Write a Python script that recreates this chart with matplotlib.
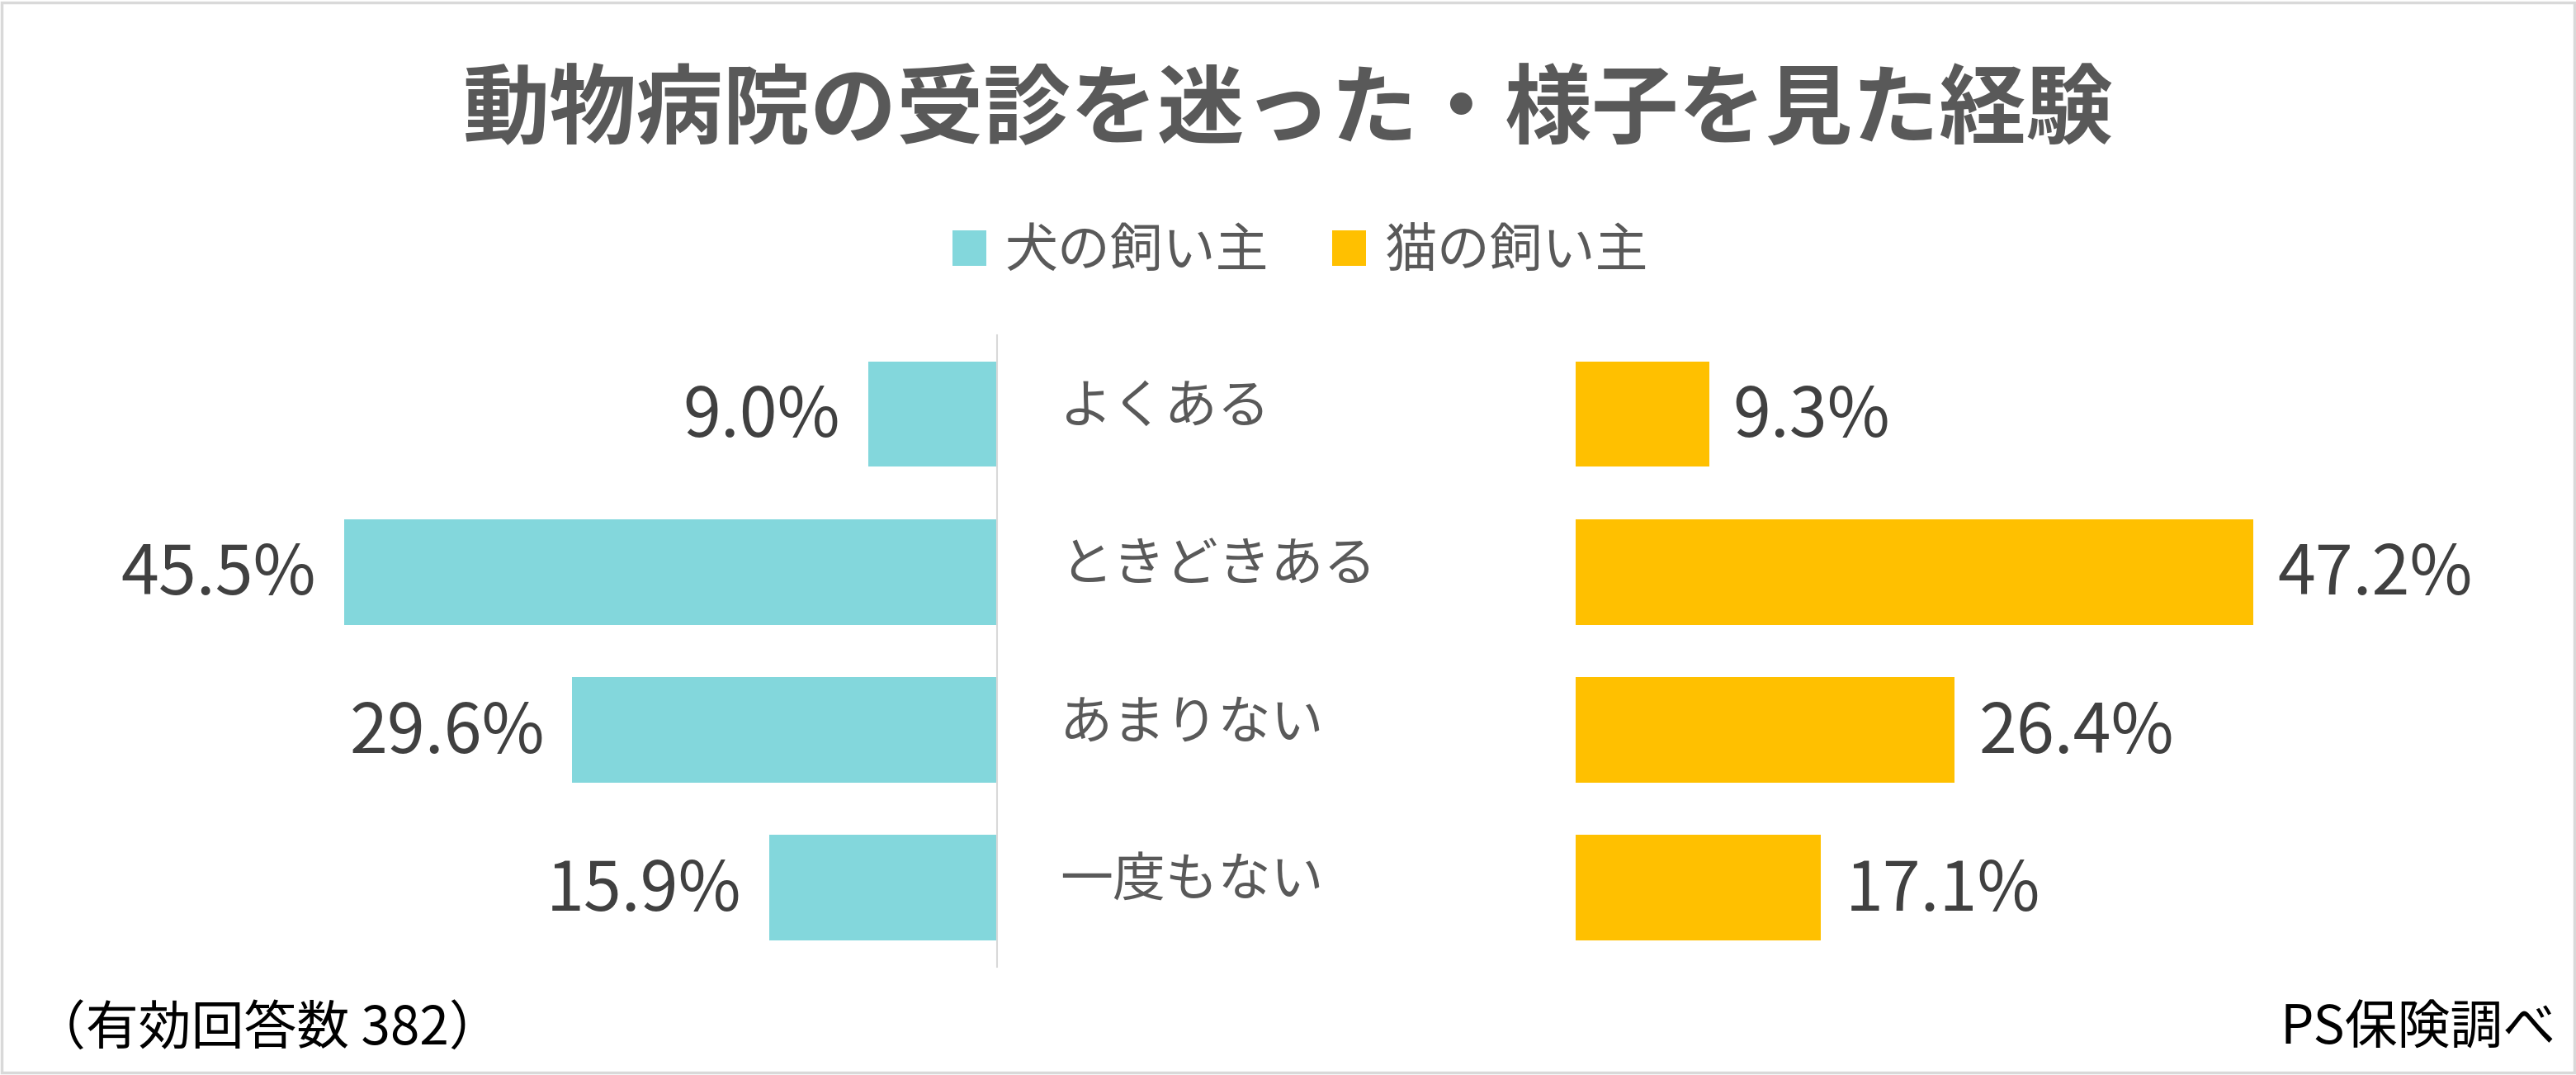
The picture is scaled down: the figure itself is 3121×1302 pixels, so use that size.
import matplotlib
matplotlib.use('Agg')
import matplotlib.pyplot as plt
import matplotlib.transforms as mtransforms
from matplotlib.patches import Rectangle

plt.rcParams['font.family'] = ['Noto Sans CJK JP', 'DejaVu Sans']

#%% data
title = '動物病院の受診を迷った・様子を見た経験'
categories = ['よくある', 'ときどきある', 'あまりない', '一度もない']
series_names = ['犬の飼い主', '猫の飼い主']
dog_values = [9.0, 45.5, 29.6, 15.9]
cat_values = [9.3, 47.2, 26.4, 17.1]
note_left = '（有効回答数 382）'
note_right = 'PS保険調べ'

#%% styles
dog_color = '#83D7DC'
cat_color = '#FFC000'
title_color = '#595959'
label_color = '#404040'
cat_label_color = '#595959'
line_color = '#D9D9D9'

# layout was measured on a half size copy of the chart (1568 x 654)
W, H = 1568.0, 654.0
def fx(px):
    return px / W
def fy(py):
    return 1 - py / H

px_per_pct = 8.74   # bar length per percent, half size pixels
xmax = 60
span = xmax * px_per_pct

fig = plt.figure(figsize=(31.21, 13.02), dpi=100)

# left axes (dog), grows to the left from the centre line
ax_l = fig.add_axes([fx(607 - span), fy(588), fx(span), 384 / H])
# right axes (cat)
ax_r = fig.add_axes([fx(959), fy(588), fx(span), 384 / H])

y = list(range(len(categories)))
bars_l = ax_l.barh(y, dog_values, height=2 / 3, color=dog_color, label=series_names[0])
bars_r = ax_r.barh(y, cat_values, height=2 / 3, color=cat_color, label=series_names[1])

for ax in (ax_l, ax_r):
    ax.set_xlim(0, xmax)
    ax.set_ylim(len(categories) - 0.5, -0.5)
    ax.set_xticks([])
    ax.set_yticks([])
    for s in ax.spines.values():
        s.set_visible(False)
ax_l.invert_xaxis()
ax_l.spines['right'].set_visible(True)
ax_l.spines['right'].set_color(line_color)
ax_l.spines['right'].set_linewidth(1.5)

# value labels
for v, yy in zip(dog_values, y):
    ax_l.annotate('%.1f%%' % v, xy=(v, yy), xytext=(-24, -3), textcoords='offset points',
                  ha='right', va='center', fontsize=59.5, color=label_color)
for v, yy in zip(cat_values, y):
    ax_r.annotate('%.1f%%' % v, xy=(v, yy), xytext=(21, -3), textcoords='offset points',
                  ha='left', va='center', fontsize=59.5, color=label_color)

# category labels in the gap between the two halves
trans = mtransforms.blended_transform_factory(fig.transFigure, ax_r.transData)
for c, yy in zip(categories, y):
    ax_r.text(fx(645), yy - 0.04, c, transform=trans, ha='left', va='center',
              fontsize=46, color=cat_label_color)

# title
fig.text(0.5, fy(68), title, ha='center', va='center', fontsize=75.8,
         fontweight='bold', color=title_color)

# legend
fig.legend(handles=[bars_l, bars_r], loc='center', bbox_to_anchor=(fx(791.5), fy(153)),
           ncol=2, frameon=False, fontsize=46, labelcolor=cat_label_color,
           handlelength=0.65, handleheight=0.65, handletextpad=0.35,
           columnspacing=1.2, borderpad=0)

# notes at the bottom
fig.text(fx(20), fy(626), note_left, ha='left', va='center', fontsize=46, color='black')
fig.text(fx(1556), fy(626), note_right, ha='right', va='center', fontsize=46, color='black')

# thin frame round the chart
fig.patches.append(Rectangle((0.0008, 0.002), 0.9984, 0.996, transform=fig.transFigure,
                             fill=False, edgecolor=line_color, linewidth=2.5))

fig.savefig('out.png', dpi=100, facecolor='white')
